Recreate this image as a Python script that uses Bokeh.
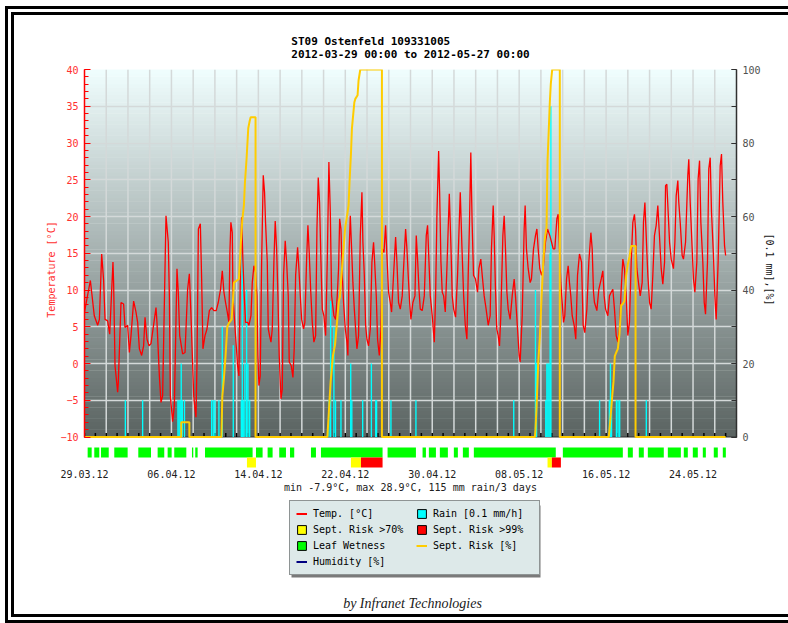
import numpy as np
import pandas as pd
from bokeh.plotting import figure
from bokeh.layouts import column
from bokeh.models import (Range1d, LinearAxis, SingleIntervalTicker, FixedTicker,
                          DatetimeTickFormatter, Legend, LegendItem, Title, Label, BoxAnnotation)
from bokeh.embed import file_html
from bokeh.resources import INLINE

# ---------------- data ----------------
TITLE_1 = "ST09 Ostenfeld 109331005"
TITLE_2 = "2012-03-29 00:00 to 2012-05-27 00:00"
SUMMARY = "min -7.9°C, max 28.9°C, 115 mm rain/3 days"
FOOTER = "by Infranet Technologies"
START = "2012-03-29 00:00"
RANGE_END = "2012-05-28 00:00"
TICK_DATES = ["2012-03-29", "2012-04-06", "2012-04-14", "2012-04-22",
              "2012-04-30", "2012-05-08", "2012-05-16", "2012-05-24"]

# temperature (days after start, deg C)
TEMP_DAY = [0.00, 0.54, 0.90, 1.21, 1.37, 1.58, 1.76, 1.89, 2.13, 2.32, 2.62, 2.68, 2.81, 3.05, 3.11,
            3.36, 3.60, 3.73, 3.97, 4.13, 4.28, 4.52, 4.74, 4.89, 5.05, 5.26, 5.44, 5.57, 5.75, 5.94,
            6.12, 6.58, 6.67, 6.89, 7.04, 7.19, 7.50, 7.71, 7.81, 7.90, 8.11, 8.27, 8.51, 8.63, 8.76,
            9.03, 9.25, 9.49, 9.65, 9.80, 10.05, 10.17, 10.26, 10.35, 10.48, 10.66, 10.78, 10.90, 11.09,
            11.27, 11.49,
            11.70, 11.91, 12.12, 12.31, 12.52, 12.68, 12.83, 12.98, 13.14, 13.29, 13.38, 13.47, 13.60,
            13.66, 13.78, 13.90, 14.09, 14.21, 14.36, 14.46, 14.58, 14.70, 14.82, 15.01, 15.13, 15.32,
            15.44, 15.59, 15.74, 15.87, 15.96, 16.05, 16.17, 16.30, 16.45, 16.57, 16.66, 16.82, 16.91,
            17.03, 17.16, 17.28, 17.43, 17.55, 17.68, 17.80, 17.92, 18.08, 18.20, 18.32, 18.47, 18.60,
            18.75, 18.84, 19.03, 19.18, 19.30, 19.43, 19.61, 19.73, 19.86, 19.98, 20.16, 20.28, 20.44,
            20.56, 20.68, 20.81, 20.96, 21.11, 21.27, 21.39, 21.51, 21.63, 21.76, 21.88, 22.03, 22.19,
            22.34, 22.49, 22.62, 22.74, 22.95, 23.11, 23.26,
            23.38, 23.48, 23.60, 23.72, 23.84, 24.00, 24.15, 24.24, 24.36, 24.46, 24.58, 24.70, 24.83,
            24.95, 25.07, 25.22, 25.38, 25.53, 25.62, 25.75, 25.87, 25.99, 26.14, 26.30, 26.45, 26.60,
            26.70, 26.85, 26.97, 27.13, 27.28, 27.40, 27.56, 27.71, 27.83, 27.98, 28.14, 28.26, 28.44,
            28.63, 28.75, 28.90, 29.06, 29.24, 29.36, 29.55, 29.67, 29.79, 29.92, 30.04, 30.22, 30.41,
            30.53, 30.65, 30.78, 30.90, 31.08, 31.27, 31.45, 31.57, 31.70, 31.82, 32.00, 32.19, 32.31,
            32.43, 32.59, 32.68, 32.80, 32.92, 33.05, 33.20, 33.35, 33.57, 33.72, 33.84, 33.97, 34.15,
            34.33, 34.58, 34.73, 34.89, 35.04, 35.19,
            35.31, 35.43, 35.55, 35.67, 35.80, 35.98, 36.17, 36.29, 36.47, 36.60, 36.78, 36.96, 37.15,
            37.33, 37.45, 37.61, 37.70, 37.82, 37.94, 38.07, 38.19, 38.31, 38.50, 38.62, 38.74, 38.87,
            38.99, 39.17, 39.36, 39.54, 39.66, 39.85, 40.00, 40.09, 40.28, 40.46, 40.55, 40.67, 40.83,
            41.01, 41.13, 41.32, 41.50, 41.63, 41.75, 41.90, 42.06, 42.21, 42.42, 42.61, 42.82, 42.98,
            43.13, 43.28, 43.47, 43.59, 43.71, 43.83, 43.96, 44.08, 44.20, 44.36, 44.51, 44.63, 44.75,
            44.88, 45.06, 45.21, 45.37, 45.55, 45.74, 45.89, 46.04, 46.23, 46.41, 46.60, 46.72, 46.84,
            46.93, 47.15, 47.33, 47.55, 47.70, 47.82, 47.95, 48.16, 48.31, 48.47, 48.62, 48.77, 48.93,
            49.08, 49.23, 49.39, 49.54, 49.69, 49.85, 50.00, 50.15, 50.31, 50.46, 50.61, 50.71, 50.83,
            50.98, 51.14, 51.32, 51.44, 51.57, 51.69, 51.84, 52.00, 52.15, 52.30, 52.45, 52.61, 52.76,
            52.91, 53.07, 53.22, 53.38, 53.47, 53.59, 53.71, 53.84, 53.99, 54.20, 54.33, 54.45, 54.60,
            54.69, 54.82, 55.00, 55.12, 55.31, 55.52, 55.61, 55.74, 55.92, 56.04, 56.17, 56.35, 56.47,
            56.60, 56.72, 56.90, 57.03, 57.15, 57.33, 57.45, 57.58, 57.70, 57.88, 58.01, 58.13, 58.31,
            58.50, 58.62, 58.74, 58.90, 59.00]
TEMP_C = [7.0, 11.3, 6.5, 5.2, 6.0, 14.9, 11.3, 6.0, 5.8, 4.0, 13.8, 11.0, -0.3, -3.9, -2.6,
          8.3, 8.1, 4.9, 5.2, 1.5, 3.8, 8.5, 7.0, 5.6, 2.0, 1.1, 2.4, 6.3, 3.3, 2.4,
          2.7, 7.6, 5.6, -1.7, -5.3, -4.4, 20.1, 16.5, 9.2, -4.4, -7.9, -5.7, 12.9, 9.7, 3.8,
          1.3, 1.5, 10.1, 12.2, 6.5, -4.4, -6.2, -7.3, -0.1, 18.3, 19.0, 11.5, 2.0, 3.8,
          4.7, 7.2,
          7.6, 7.2, 7.2, 8.3, 10.1, 12.6, 9.7, 8.3, 7.0, 5.6, 15.1, 19.2, 17.8,
          9.2, 6.5, 3.8, -0.3, -1.7, 13.8, 19.9, 13.8, 9.2, 5.6, 5.6, 5.2, 6.5,
          11.0, 13.3, 12.4, 9.2, 1.1, -3.0, -1.7, 13.8, 25.6, 23.3, 19.2, 13.8, 4.7,
          3.8, 2.9, 4.7, 13.8, 19.4, 15.6, 9.2, 1.1, -4.8, -3.5, 12.0, 16.7, 13.8,
          9.2, 0.2, -0.3, -1.9, 2.0, 12.0, 15.8, 12.9, 9.2, 6.0, 4.7, 5.6, 14.2,
          18.8, 15.1, 10.1, 5.6, 2.9, 3.8, 18.3, 25.3, 21.9, 13.8, 7.4, 6.5, 3.8,
          13.8, 27.4, 20.6, 9.2, 6.5, 6.0, 9.2,
          12.9, 19.7, 18.3, 12.0, 8.3, 4.7, 2.9, 1.1, 15.6, 20.1, 15.6, 11.0, 7.4,
          4.7, 2.0, 3.8, 17.4, 23.3, 16.5, 12.0, 5.2, 3.3, 2.4, 4.7, 13.8, 16.5,
          13.8, 9.2, 3.3, 1.1, 4.7, 15.6, 15.1, 18.8, 14.7, 9.7, 8.3, 7.0, 12.0,
          17.2, 13.8, 8.3, 7.4, 9.2, 12.9, 18.3, 15.6, 12.0, 8.3, 6.0, 8.3, 9.2,
          17.4, 14.2, 10.1, 7.4, 7.2, 9.2, 17.4, 18.8, 13.8, 9.2, 6.5, 2.9, 9.2,
          20.1, 28.9, 23.3, 13.8, 9.7, 9.2, 7.0, 12.9, 23.1, 16.0, 9.2, 7.4, 6.3,
          12.0, 23.3, 16.0, 9.2, 5.2, 3.3,
          12.0, 19.2, 28.7, 19.2, 12.0, 11.5, 9.7, 12.9, 14.2, 12.0, 9.2, 7.4, 5.2,
          6.5, 15.6, 21.5, 17.4, 10.1, 4.7, 3.8, 2.4, 6.5, 17.4, 20.1, 15.6, 9.7,
          7.4, 6.0, 9.2, 11.5, 9.2, 4.7, 1.1, 0.2, 6.5, 18.3, 21.5, 15.6, 12.9,
          11.0, 11.5, 15.6, 17.4, 18.3, 15.6, 12.9, 12.0, 12.9, 16.5, 18.3, 17.4, 16.5,
          15.6, 15.6, 19.7, 20.3, 15.6, 11.0, 8.3, 5.6, 6.5, 11.5, 13.3, 11.0, 9.2,
          6.5, 5.2, 3.3, 12.0, 14.9, 13.8, 5.2, 4.2, 7.4, 13.8, 17.8, 15.6, 9.7,
          8.3, 7.2, 10.1, 11.5, 12.6, 9.2, 7.4, 6.5, 9.2, 9.7, 10.1, 7.4, 3.8,
          2.9, 4.7, 10.1, 14.2, 12.9, 9.2, 3.8, 5.6, 13.8, 19.2, 20.3, 18.3, 12.9,
          11.0, 9.2, 11.0, 19.2, 21.9, 17.4, 12.0, 8.3, 7.4, 12.0, 17.4, 18.8, 21.5,
          17.4, 12.9, 10.8, 13.8, 24.2, 24.4, 20.6, 16.5, 14.2, 12.9, 16.5, 22.8, 24.9,
          21.9, 19.2, 14.7, 14.2, 16.5, 25.6, 27.8, 21.9, 15.6, 11.5, 9.7, 13.8, 25.1,
          27.6, 19.2, 13.8, 8.3, 6.7, 13.8, 26.5, 28.0, 20.6, 14.7, 9.2, 6.0, 13.8,
          26.9, 28.5, 21.9, 16.0, 14.7]

# rain (days after start, 0.1 mm/h)
RAIN_DAY = [3.76, 5.35, 8.60, 8.70, 8.80, 8.90, 9.00, 9.20, 11.70, 11.85, 12.00, 12.37, 12.68, 13.69,
            14.43, 14.52, 14.61, 14.76, 14.92, 15.04, 15.20, 22.50, 22.65, 22.95, 23.10, 23.60,
            24.50, 24.60, 25.60, 26.40, 26.80, 26.88, 28.20, 30.50, 39.50, 41.50, 41.60, 42.45,
            42.55, 42.65, 42.75, 42.85, 42.92, 47.40, 48.30, 48.40, 48.50, 48.95, 49.10, 49.25, 51.70]
RAIN_VAL = [10, 10, 10, 10, 10, 20, 10, 10, 10, 10, 10, 10, 30, 25,
            10, 55, 10, 20, 40, 20, 10, 10, 37, 30, 10, 10,
            20, 10, 10, 20, 10, 10, 10, 10, 10, 40, 20, 10,
            20, 20, 20, 50, 90, 10, 10, 20, 10, 10, 10, 10, 10]

# septoria risk (days after start, %)
RISK_DAY = [0, 8.90, 8.90, 9.65, 9.65, 12.60, 12.68, 12.83, 12.98, 13.14, 13.29, 13.54, 13.66, 13.75,
            14.21, 14.30, 14.43, 14.52, 14.67, 14.76, 14.92, 15.07, 15.20, 15.29, 15.74, 15.74,
            22.35, 22.49, 22.65, 22.86, 23.05, 23.26, 23.41, 23.50, 23.60, 23.78, 23.99, 24.15,
            24.30, 24.40, 24.52, 24.61, 24.83, 24.92, 25.13, 25.22, 25.38, 27.37, 27.37,
            41.45, 41.50, 41.60, 41.75, 41.90, 42.06, 42.21, 42.36, 42.52, 42.61, 42.73, 42.82,
            42.91, 43.04, 43.74, 43.74, 48.25, 48.37, 48.56, 48.68, 48.80, 48.93, 49.08, 49.23,
            49.39, 49.48, 49.69, 49.85, 50.00, 50.15, 50.31, 50.71, 50.71, 59.00]
RISK_PCT = [0, 0, 4, 4, 0, 0, 11, 16, 22, 30, 31, 32, 37, 42,
            43, 48, 55, 59, 63, 69, 76, 84, 86, 87, 87, 0,
            0, 7, 15, 22, 25, 32, 37, 38, 42, 49, 57, 60,
            63, 70, 77, 84, 91, 92, 93, 97, 100, 100, 0,
            0, 2, 8, 20, 27, 38, 47, 54, 57, 75, 84, 91,
            96, 100, 100, 0, 0, 4, 11, 15, 22, 23, 24, 28,
            36, 36, 37, 44, 47, 49, 52, 52, 0, 0]

# leaf wetness periods (days after start)
WET_START = [0.29, 0.90, 1.52, 2.74, 4.95, 6.73, 7.65, 8.26, 9.89, 10.19, 11.09, 15.78, 16.85, 17.92,
             18.91, 20.84, 21.76, 27.89, 31.11, 31.69, 32.70, 33.99, 34.82, 35.83, 44.02, 50.00,
             51.01, 51.84, 53.68, 55.15, 55.98, 56.90, 57.91, 58.74]
WET_END = [0.66, 1.36, 2.23, 3.97, 6.12, 7.34, 8.02, 9.37, 10.01, 10.41, 15.47, 16.39, 17.31, 18.54,
           19.30, 21.30, 27.43, 30.50, 31.42, 32.34, 33.44, 34.36, 35.37, 43.37, 49.54, 50.46,
           51.47, 53.31, 54.88, 55.52, 56.44, 57.18, 58.28, 59.02]

# septoria risk periods
R70_START = [14.95, 24.52, 42.61]
R70_END = [15.78, 25.44, 43.01]
R99_START = [25.44, 43.01]
R99_END = [27.43, 43.84]

# ---------------- helpers ----------------
T0 = pd.Timestamp(START)


def dt(days):
    return (T0 + pd.to_timedelta(np.asarray(days, dtype=float), unit="D")).values


MONO = "DejaVu Sans Mono"
Y_BOTTOM = -14.42          # frame extends below -10 for the status bars

p = figure(x_axis_type="datetime",
           x_range=Range1d(T0.to_pydatetime(), pd.Timestamp(RANGE_END).to_pydatetime()),
           y_range=Range1d(Y_BOTTOM, 40),
           frame_width=652, frame_height=400,
           min_border_left=70, min_border_right=52, min_border_top=54, min_border_bottom=30,
           output_backend="svg", toolbar_location=None, title=None,
           outline_line_color=None, background_fill_color="white", border_fill_color="white")
p.extra_y_ranges = {"right": Range1d((Y_BOTTOM + 10) * 2, 100)}

# gradient background of plot area (-10..40)
n = 100
edges = np.linspace(-10, 40, n + 1)
top_rgb = np.array([240, 254, 254])
bot_rgb = np.array([90, 99, 97])
cols = []
for i in range(n):
    f = ((edges[i] + edges[i + 1]) / 2 + 10) / 50
    c = bot_rgb + (top_rgb - bot_rgb) * f
    cols.append("#%02x%02x%02x" % tuple(int(round(v)) for v in c))
p.quad(left=dt([0] * n), right=dt([60] * n), bottom=edges[:-1], top=edges[1:] + 0.06,
       fill_color=cols, line_color=None, level="image")

# grid
p.xgrid.visible = False
p.ygrid.ticker = FixedTicker(ticks=[-5, 0, 5, 10, 15, 20, 25, 30, 35, 40])
p.ygrid.grid_line_color = "#d4d9d9"
p.ygrid.grid_line_width = 1.5
gd = np.arange(2, 60, 2)
p.segment(x0=dt(gd), y0=[-10] * len(gd), x1=dt(gd), y1=[40] * len(gd),
          line_color="#d4d9d9", line_width=1.5, level="underlay")

# bottom line and day ticks
p.segment(x0=dt([0]), y0=[-10], x1=dt([60]), y1=[-10], line_color="#303030", line_width=1)
dd = np.arange(0, 60, 1)
p.segment(x0=dt(dd), y0=[-10] * len(dd), x1=dt(dd), y1=[-9.45] * len(dd),
          line_color="black", line_width=1.5)

# data
p.vbar(x=dt(RAIN_DAY), top=RAIN_VAL, bottom=0, width=3 * 3600 * 1000,
       fill_color="#00ffff", line_color=None, y_range_name="right")
p.line(dt(TEMP_DAY), TEMP_C, line_color="#ff0000", line_width=1.3)
p.line(dt(RISK_DAY), RISK_PCT, line_color="#ffcc00", line_width=2, y_range_name="right")

# status bars below the plot
p.quad(left=dt(WET_START), right=dt(WET_END), bottom=-12.79, top=-11.43,
       fill_color="#00ff00", line_color=None)
p.quad(left=dt(R70_START), right=dt(R70_END), bottom=-14.15, top=-12.79,
       fill_color="#ffff00", line_color=None)
p.quad(left=dt(R99_START), right=dt(R99_END), bottom=-14.15, top=-12.79,
       fill_color="#ff0000", line_color=None)

# axes
yl = p.yaxis[0]
yl.bounds = (-10, 40)
yl.ticker = SingleIntervalTicker(interval=5, num_minor_ticks=5)
yl.axis_line_color = "#ff0000"
yl.axis_line_width = 1.5
yl.major_tick_line_color = "#ff0000"
yl.major_tick_in = 6
yl.major_tick_out = 0
yl.minor_tick_line_color = "#ff0000"
yl.minor_tick_in = 4
yl.minor_tick_out = 0
yl.major_label_text_color = "#ff3030"
yl.major_label_text_font = MONO
yl.major_label_text_font_size = "10px"
yl.major_label_standoff = 6
yl.axis_label = "Temperature [°C]"
yl.axis_label_text_color = "#ff3030"
yl.axis_label_text_font = MONO
yl.axis_label_text_font_size = "10px"
yl.axis_label_text_font_style = "normal"
yl.axis_label_standoff = 0

yr = LinearAxis(y_range_name="right", bounds=(0, 100),
                ticker=SingleIntervalTicker(interval=20, num_minor_ticks=2))
yr.axis_line_color = "#303030"
yr.axis_line_width = 1.5
yr.major_tick_line_color = "#303030"
yr.major_tick_in = 5
yr.major_tick_out = 0
yr.minor_tick_line_color = "#303030"
yr.minor_tick_in = 5
yr.minor_tick_out = 0
yr.major_label_text_color = "#505050"
yr.major_label_text_font = MONO
yr.major_label_text_font_size = "10px"
yr.major_label_standoff = 6
yr.axis_label = "[0.1 mm],[%]"
yr.axis_label_text_color = "#202020"
yr.axis_label_text_font = MONO
yr.axis_label_text_font_size = "10px"
yr.axis_label_text_font_style = "normal"
yr.axis_label_standoff = 0
p.add_layout(yr, "right")

xa = p.xaxis[0]
xa.ticker = FixedTicker(ticks=[pd.Timestamp(d).value / 1e6 for d in TICK_DATES])
fmt = "%d.%m.%y"
xa.formatter = DatetimeTickFormatter(days=fmt, months=fmt, years=fmt, hours=fmt, minutes=fmt)
xa.axis_line_color = None
xa.major_tick_line_color = None
xa.minor_tick_line_color = None
xa.major_tick_in = 0
xa.major_tick_out = 0
xa.minor_tick_in = 0
xa.minor_tick_out = 0
xa.major_label_standoff = 0
xa.major_label_text_font = MONO
xa.major_label_text_font_size = "10px"
xa.major_label_text_color = "#202020"
xa.axis_label = SUMMARY
xa.axis_label_text_font = MONO
xa.axis_label_text_font_size = "10px"
xa.axis_label_text_font_style = "normal"
xa.axis_label_text_color = "#202020"
xa.axis_label_standoff = 1

# title (two lines)
p.add_layout(Title(text=TITLE_1 + "\n" + TITLE_2, align="center", text_font=MONO,
                   text_font_size="11px", text_font_style="bold", text_color="black",
                   standoff=17), "above")

# ---------------- legend + footer panel (data units = page pixels) ----------------
q = figure(frame_width=652, height=115, x_range=Range1d(84, 736), y_range=Range1d(614, 499),
           min_border_left=70, min_border_right=52, min_border_top=0, min_border_bottom=0,
           x_axis_location=None, y_axis_location=None,
           output_backend="svg", toolbar_location=None, title=None,
           outline_line_color=None, background_fill_color="white", border_fill_color="white")
q.grid.visible = False

OFF = [-50, -40]   # legend swatch renderers sit outside the visible range


def box(color):
    return q.quad(left=[OFF[0]], right=[OFF[1]], top=[550], bottom=[560], fill_color=color,
                  line_color="black", line_width=1)


lg_temp = q.line(OFF, [550, 550], line_color="#ff0000", line_width=2)
lg_rain = box("#00ffff")
lg_r70 = box("#ffff00")
lg_r99 = box("#ff0000")
lg_wet = box("#00ff00")
lg_risk = q.line(OFF, [550, 550], line_color="#ffcc00", line_width=2)
lg_hum = q.line(OFF, [550, 550], line_color="#000080", line_width=2)

# legend shadow
q.add_layout(BoxAnnotation(left=291, right=540, top=505, bottom=577, fill_color="#7a7a7a",
                           fill_alpha=1, line_color=None))

legend = Legend(items=[
    LegendItem(label="Temp. [°C]", renderers=[lg_temp]),
    LegendItem(label="Rain [0.1 mm/h]", renderers=[lg_rain]),
    LegendItem(label="Sept. Risk >70%", renderers=[lg_r70]),
    LegendItem(label="Sept. Risk >99%", renderers=[lg_r99]),
    LegendItem(label="Leaf Wetness", renderers=[lg_wet]),
    LegendItem(label="Sept. Risk [%]", renderers=[lg_risk]),
    LegendItem(label="Humidity [%]", renderers=[lg_hum]),
], location=(205, 39), orientation="horizontal", ncols=2,
    background_fill_color="#dde9e9", background_fill_alpha=1,
    border_line_color="#404040", border_line_width=1,
    label_text_font=MONO, label_text_font_size="10px", label_text_color="black",
    glyph_width=11, glyph_height=11, label_standoff=6, label_width=100, label_height=13,
    spacing=3, padding=6, margin=0)
q.add_layout(legend, "center")

q.add_layout(Label(x=412, y=603, text=FOOTER, text_align="center", text_baseline="middle",
                   text_font="Liberation Serif", text_font_size="14px",
                   text_font_style="italic", text_color="#202020"))

page = column(p, q, spacing=0,
              styles={"margin-left": "5px", "margin-top": "6px",
                      "border-left": "9px double black", "border-top": "9px double black",
                      "border-bottom": "9px double black"})

open("out.html", "w").write(file_html(page, INLINE))
